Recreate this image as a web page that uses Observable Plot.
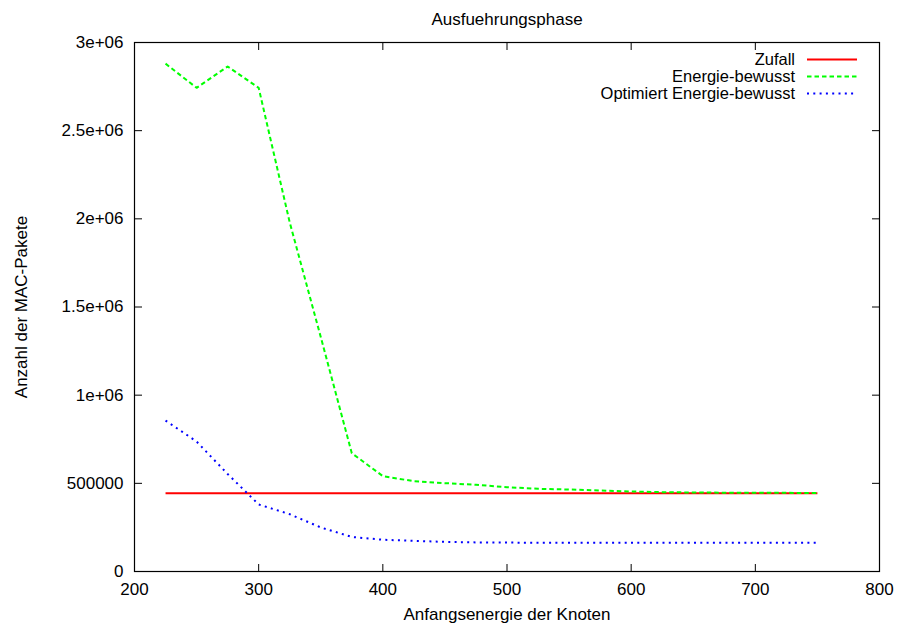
<!DOCTYPE html>
<html>
<head>
<meta charset="utf-8">
<script src="https://cdn.jsdelivr.net/npm/d3@7"></script>
<script src="https://cdn.jsdelivr.net/npm/@observablehq/plot@0.6"></script>
<style>
  html, body { margin: 0; padding: 0; background: #fff; }
  #chart svg { font-family: "Liberation Sans", Arial, sans-serif; }
</style>
</head>
<body>
<div id="chart"></div>
<script>
// ---- data ----
const energy = [225, 250, 275, 300, 325, 350, 375, 400, 425, 450, 475, 500, 525, 550, 575, 600, 625, 650, 675, 700, 725, 750];
const zufall = [444000, 444000, 444000, 444000, 444000, 444000, 444000, 444000, 444000, 444000, 444000, 444000, 444000, 444000, 444000, 444000, 444000, 444000, 444000, 444000, 444000, 444000];
const energieBewusst = [2880000, 2743000, 2864000, 2743000, 1980000, 1330000, 671000, 541000, 512000, 501000, 492000, 478000, 469000, 465000, 459000, 454000, 450000, 448000, 447000, 446000, 446000, 445000];
const optimiert = [856000, 737000, 553000, 380000, 325000, 250000, 196000, 180000, 174000, 168000, 165000, 164000, 163000, 163000, 163000, 163000, 163000, 163000, 163000, 163000, 163000, 163000];
const seriesNames = ["Zufall", "Energie-bewusst", "Optimiert Energie-bewusst"];
const seriesColors = ["#ff0000", "#00ff00", "#0000ff"];
const seriesDash = [null, "4.5,3", "2,4.3"];
const xTicks = [200, 300, 400, 500, 600, 700, 800];
const yTicks = [0, 500000, 1000000, 1500000, 2000000, 2500000, 3000000];
const yTickLabels = ["0", "500000", "1e+06", "1.5e+06", "2e+06", "2.5e+06", "3e+06"];
const titleText = "Ausfuehrungsphase";
const xLabel = "Anfangsenergie der Knoten";
const yLabel = "Anzahl der MAC-Pakete";

// ---- table ----
const seriesValues = [zufall, energieBewusst, optimiert];
const rows = [];
seriesValues.forEach((vals, i) => vals.forEach((v, j) => rows.push({series: seriesNames[i], x: energy[j], y: v})));

const FS = 17;
const font = "Liberation Sans, Arial, sans-serif";

const lineMarks = seriesNames.map((name, i) =>
  Plot.line(rows.filter(r => r.series === name), {
    x: "x", y: "y", stroke: seriesColors[i], strokeWidth: 2,
    strokeDasharray: seriesDash[i] || undefined, strokeLinecap: "butt"
  })
);

const plot = Plot.plot({
  width: 897, height: 626,
  marginLeft: 134, marginRight: 18, marginTop: 42, marginBottom: 55,
  style: {fontFamily: font, fontSize: FS + "px", color: "#000", background: "#fff", overflow: "visible"},
  x: {domain: [200, 800]},
  y: {domain: [0, 3000000]},
  marks: [
    // tick labels
    Plot.axisX(xTicks, {anchor: "bottom", tickSize: 0, tickPadding: 11, fontSize: FS, label: null}),
    Plot.axisY(yTicks, {anchor: "left", tickSize: 0, tickPadding: 11, fontSize: FS, label: null,
      tickFormat: d => yTickLabels[yTicks.indexOf(d)]}),
    // inward tick marks on all four sides
    Plot.axisX(xTicks, {anchor: "bottom", tickSize: -7, tickFormat: () => "", label: null}),
    Plot.axisX(xTicks, {anchor: "top", tickSize: -7, tickFormat: () => "", label: null}),
    Plot.axisY(yTicks, {anchor: "left", tickSize: -8, tickFormat: () => "", label: null}),
    Plot.axisY(yTicks, {anchor: "right", tickSize: -8, tickFormat: () => "", label: null}),
    Plot.frame({stroke: "#000", strokeWidth: 1.2}),
    ...lineMarks,
    // titles
    Plot.text([titleText], {frameAnchor: "top", dy: -30, fontSize: FS, fill: "#000", textAnchor: "middle"}),
    Plot.text([xLabel], {frameAnchor: "bottom", dy: 48, fontSize: FS, fill: "#000", textAnchor: "middle"}),
    Plot.text([yLabel], {frameAnchor: "left", dx: -113, rotate: -90, fontSize: FS, fill: "#000", textAnchor: "middle"})
  ]
});

// ---- legend (gnuplot style, top-right inside the frame) ----
const svg = d3.select(plot);
const LFS = 16.5;
const lg = svg.append("g").attr("font-family", font).attr("font-size", LFS);
const legendRight = 795, sampleX1 = 807, sampleX2 = 857, legendTop = 59.5, legendStep = 17;
seriesNames.forEach((name, i) => {
  const y = legendTop + i * legendStep;
  lg.append("text").attr("x", legendRight).attr("y", y).attr("dy", "0.35em")
    .attr("text-anchor", "end").attr("fill", "#000").text(name);
  lg.append("line").attr("x1", sampleX1).attr("x2", sampleX2).attr("y1", y).attr("y2", y)
    .attr("stroke", seriesColors[i]).attr("stroke-width", 2)
    .attr("stroke-dasharray", seriesDash[i]);
});

document.getElementById("chart").appendChild(plot);
</script>
</body>
</html>
